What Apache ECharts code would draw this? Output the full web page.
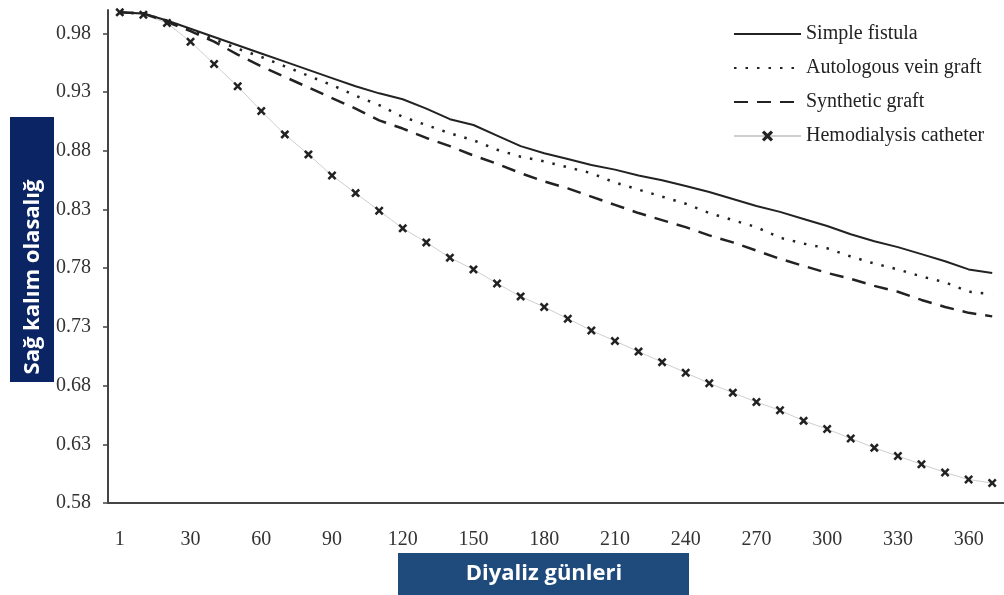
<!DOCTYPE html>
<html>
<head>
<meta charset="utf-8">
<script src="https://cdn.jsdelivr.net/npm/echarts@6/dist/echarts.min.js"></script>
<style>html,body{margin:0;padding:0;background:#fff;}#c{width:1004px;height:595px;}</style>
</head>
<body>
<div id="c"></div>
<script>
var days = ["1","10","20","30","40","50","60","70","80","90","100","110","120","130","140","150","160","170","180","190","200","210","220","230","240","250","260","270","280","290","300","310","320","330","340","350","360","370"];
var yTicks = [0.58,0.63,0.68,0.73,0.78,0.83,0.88,0.93,0.98];
var simpleFistula = [0.998,0.997,0.991,0.984,0.977,0.970,0.963,0.956,0.949,0.942,0.935,0.929,0.924,0.916,0.907,0.902,0.893,0.884,0.878,0.873,0.868,0.864,0.859,0.855,0.850,0.845,0.839,0.833,0.828,0.822,0.816,0.809,0.803,0.798,0.792,0.786,0.779,0.776];
var autologousVein = [0.998,0.997,0.991,0.983,0.975,0.967,0.960,0.952,0.944,0.936,0.927,0.919,0.909,0.902,0.895,0.889,0.881,0.875,0.871,0.866,0.861,0.853,0.847,0.841,0.835,0.827,0.821,0.815,0.806,0.801,0.797,0.790,0.784,0.779,0.773,0.768,0.760,0.758];
var syntheticGraft = [0.998,0.997,0.990,0.982,0.973,0.962,0.952,0.943,0.934,0.925,0.916,0.906,0.899,0.891,0.884,0.876,0.869,0.861,0.854,0.848,0.841,0.834,0.827,0.821,0.815,0.808,0.802,0.795,0.788,0.782,0.776,0.771,0.765,0.760,0.753,0.747,0.742,0.739];
var catheter = [0.998,0.996,0.989,0.973,0.954,0.935,0.914,0.894,0.877,0.859,0.844,0.829,0.814,0.802,0.789,0.779,0.767,0.756,0.747,0.737,0.727,0.718,0.709,0.700,0.691,0.682,0.674,0.666,0.659,0.650,0.643,0.635,0.627,0.620,0.613,0.606,0.600,0.597];

var xPath = 'path://M0,2 L2,0 L5,3 L8,0 L10,2 L7,5 L10,8 L8,10 L5,7 L2,10 L0,8 L3,5 Z';
var serif = '"Liberation Serif", "DejaVu Serif", serif';
var noMark = {opacity: 0};

var chart = echarts.init(document.getElementById('c'));
chart.setOption({
  backgroundColor: '#fff',
  animation: false,
  grid: {left: 108, right: 0, top: 10, bottom: 92},
  legend: {
    orient: 'vertical', left: 733, top: 24, padding: 0,
    itemWidth: 67, itemHeight: 14, itemGap: 14,
    textStyle: {fontFamily: serif, fontSize: 20, color: '#222'},
    data: [
      {name: 'Simple fistula', itemStyle: noMark},
      {name: 'Autologous vein graft', itemStyle: noMark},
      {name: 'Synthetic graft', itemStyle: noMark},
      {name: 'Hemodialysis catheter'}
    ]
  },
  xAxis: {
    type: 'category', data: days, boundaryGap: true,
    axisLine: {lineStyle: {color: '#444', width: 2}},
    axisTick: {interval: 0, length: 6, lineStyle: {color: '#444', width: 1.5}},
    axisLabel: {interval: 2, margin: 27, fontFamily: serif, fontSize: 20, color: '#333'},
    splitLine: {show: false}
  },
  yAxis: {
    type: 'value', min: 0.58, max: 1.0,
    axisLine: {show: true, lineStyle: {color: '#444', width: 2}},
    axisTick: {show: true, length: 5, customValues: yTicks, lineStyle: {color: '#444', width: 1.5}},
    axisLabel: {customValues: yTicks, margin: 17, fontFamily: serif, fontSize: 20, color: '#333',
      formatter: function (v) { return v.toFixed(2); }},
    splitLine: {show: false}
  },
  series: [
    {name: 'Simple fistula', type: 'line', data: simpleFistula, symbol: 'none',
      lineStyle: {color: '#222', width: 2}, itemStyle: {color: '#222'}, z: 4},
    {name: 'Autologous vein graft', type: 'line', data: autologousVein, symbol: 'none',
      lineStyle: {color: '#222', width: 2.5, type: [2.5, 9]}, itemStyle: {color: '#222'}, z: 3},
    {name: 'Synthetic graft', type: 'line', data: syntheticGraft, symbol: 'none',
      lineStyle: {color: '#222', width: 2.5, type: [14, 9]}, itemStyle: {color: '#222'}, z: 3},
    {name: 'Hemodialysis catheter', type: 'line', data: catheter, symbol: xPath, symbolSize: 9,
      lineStyle: {color: '#cfcfcf', width: 1}, itemStyle: {color: '#222'}, z: 2}
  ],
  graphic: [
    {type: 'rect', left: 10, top: 117, shape: {width: 44, height: 265}, style: {fill: '#0b2463'}},
    {type: 'text', x: 33, y: 277, rotation: Math.PI / 2,
      style: {text: 'Sağ kalım olasalığ', fill: '#fff', font: 'bold 22px "Open Sans", "Noto Sans", sans-serif',
        align: 'center', verticalAlign: 'middle'}},
    {type: 'rect', left: 398, top: 553, shape: {width: 291, height: 45}, style: {fill: '#1f4a7c'}},
    {type: 'text', x: 544, y: 574,
      style: {text: 'Diyaliz günleri', fill: '#fff', font: 'bold 22px "Open Sans", "Noto Sans", sans-serif',
        align: 'center', verticalAlign: 'middle'}}
  ]
});
</script>
</body>
</html>
